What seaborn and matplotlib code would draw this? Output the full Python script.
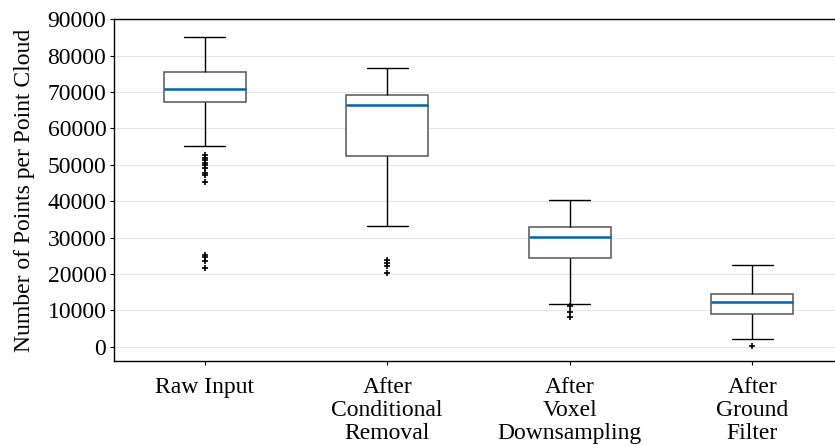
import pandas as pd
import seaborn as sns
import matplotlib.pyplot as plt

# box statistics
stages = ["Raw Input", "After\nConditional\nRemoval", "After\nVoxel\nDownsampling", "After\nGround\nFilter"]
whis_lo = [55100, 33200, 11700, 2000]
q1 = [67200, 52400, 24300, 8900]
med = [70800, 66500, 30200, 12300]
q3 = [75600, 69100, 32800, 14500]
whis_hi = [85200, 76500, 40200, 22600]
outliers = [
    [52700, 52000, 51300, 50600, 50000, 49100, 47800, 47200, 45300, 25100, 24600, 23500, 21600],
    [23800, 23000, 22200, 20200],
    [11200, 9600, 8100],
    [300],
]

# rebuild a sample per stage that reproduces the box statistics
rows = []
for i, stage in enumerate(stages):
    vals = outliers[i] + [whis_lo[i]] + [q1[i]] * 40 + [med[i]] * 40 + [q3[i]] * 40 + [whis_hi[i]]
    for v in vals:
        rows.append({"stage": stage, "points": v})
df = pd.DataFrame(rows)

sns.set_style("whitegrid")
plt.rcParams["font.family"] = ["Liberation Serif", "DejaVu Serif"]
plt.rcParams["text.color"] = "black"
plt.rcParams["xtick.color"] = "black"
plt.rcParams["ytick.color"] = "black"
plt.rcParams["axes.labelcolor"] = "black"

fig = plt.figure(figsize=(8.35, 4.45), dpi=100)
ax = fig.add_axes([114 / 835, 1 - 361.3 / 445, 1 - 114 / 835, (361.3 - 19.3) / 445])

sns.boxplot(
    data=df, x="stage", y="points", ax=ax,
    width=0.45, linewidth=1.0, fliersize=5,
    boxprops=dict(facecolor="white", edgecolor="#555555", linewidth=1.1),
    medianprops=dict(color="#0063B1", linewidth=1.8),
    whiskerprops=dict(color="black", linewidth=1.0),
    capprops=dict(color="black", linewidth=1.0),
    flierprops=dict(marker="+", markersize=5, markeredgecolor="black",
                    markerfacecolor="black", markeredgewidth=1.2),
)

ax.set_ylim(-4000, 90000)
ax.set_xlim(-0.497, 3.453)
ax.set_yticks(range(0, 90001, 10000))
ax.yaxis.grid(True, color="#e6e6e6", linewidth=0.8)
ax.xaxis.grid(False)

for side in ["left", "bottom", "top"]:
    ax.spines[side].set_visible(True)
    ax.spines[side].set_color("black")
    ax.spines[side].set_linewidth(1.0)
ax.spines["right"].set_visible(False)

ax.tick_params(axis="y", labelsize=17, length=3, width=0.8, pad=2.5, left=True)
ax.tick_params(axis="x", labelsize=17, length=3, width=0.8, pad=8.5, bottom=True)
for lab in ax.get_xticklabels():
    lab.set_linespacing(1.12)

ax.set_xlabel("")
ax.set_ylabel("Number of Points per Point Cloud", fontsize=17, labelpad=9)

plt.savefig("out.png", dpi=100)
